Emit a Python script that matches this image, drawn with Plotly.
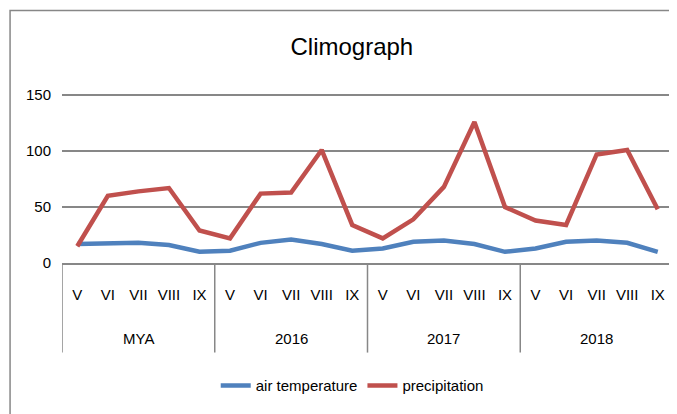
import plotly.graph_objects as go

years = ["MYA", "2016", "2017", "2018"]
months = ["V", "VI", "VII", "VIII", "IX"]
air_temperature = [17, 17, 18, 16, 10,
                   11, 18, 21, 17, 11,
                   13, 19, 20, 17, 10,
                   13, 19, 20, 18, 10]
precipitation = [15, 60, 64, 67, 29,
                 22, 62, 63, 101, 34,
                 22, 39, 68, 126, 50,
                 38, 34, 97, 101, 48]
y_ticks = [0, 50, 100, 150]

x_inner = [m for _ in years for m in months]
x_pos = list(range(len(x_inner)))
n_m = len(months)

FONT = "Liberation Sans, Arial, sans-serif"
GRAY = "#878787"

fig = go.Figure()
fig.add_trace(go.Scatter(x=x_pos, y=air_temperature, mode="lines",
                         name="air temperature",
                         line=dict(color="#4F81BD", width=4.5)))
fig.add_trace(go.Scatter(x=x_pos, y=precipitation, mode="lines",
                         name="precipitation",
                         line=dict(color="#C0504D", width=4.5)))

shapes = []
# group dividers below the category axis
for g in range(len(years) + 1):
    xv = g * n_m - 0.5
    shapes.append(dict(type="line", xref="x", yref="paper", x0=xv, x1=xv,
                       y0=0, y1=-0.53, line=dict(color=GRAY, width=1.5)))
# chart border
shapes.append(dict(type="rect", xref="paper", yref="paper",
                   x0=-0.085, x1=1.05, y0=-1.2, y1=1.494,
                   line=dict(color=GRAY, width=1.5), fillcolor="rgba(0,0,0,0)",
                   layer="below"))

annotations = []
for g, yr in enumerate(years):
    annotations.append(dict(x=g * n_m + (n_m - 1) / 2, y=-0.446, xref="x", yref="paper",
                            text=yr, showarrow=False, xanchor="center", yanchor="middle",
                            font=dict(family=FONT, size=15, color="#000000")))

fig.update_layout(
    width=669, height=406,
    margin=dict(l=54, r=4, t=86, b=151),
    paper_bgcolor="white", plot_bgcolor="white",
    font=dict(family=FONT, size=15, color="#000000"),
    title=dict(text="Climograph", x=0.514, xanchor="center", y=0.904, yanchor="middle",
               font=dict(family=FONT, size=24, color="#000000")),
    showlegend=True,
    legend=dict(orientation="h", x=0.475, xanchor="center", y=-0.726, yanchor="middle",
                font=dict(family=FONT, size=15), tracegroupgap=0),
    xaxis=dict(range=[-0.5, len(x_pos) - 0.5], tickvals=x_pos, ticktext=x_inner,
               showgrid=False, zeroline=False, showline=True,
               linecolor=GRAY, linewidth=1.5, ticks="", ticklabelstandoff=17,
               tickfont=dict(family=FONT, size=15)),
    yaxis=dict(range=[0, 151], tickvals=y_ticks, showgrid=True,
               gridcolor=GRAY, gridwidth=1.5, zeroline=False, showline=False,
               ticks="", tickfont=dict(family=FONT, size=15), ticklabelstandoff=10),
    shapes=shapes,
    annotations=annotations,
)

fig.write_html("out.html")
